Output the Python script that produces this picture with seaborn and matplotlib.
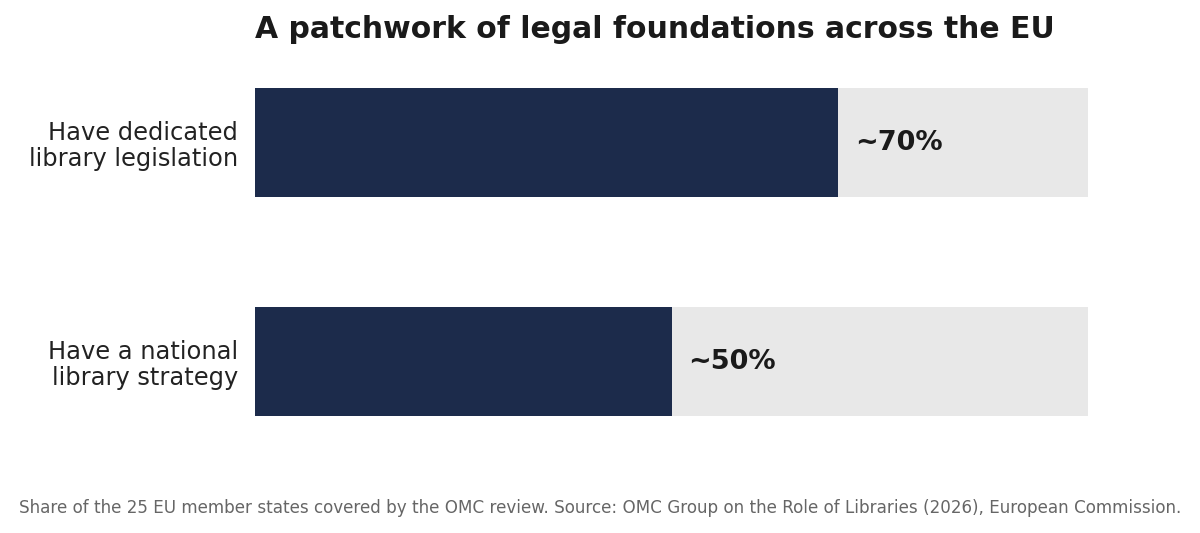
import matplotlib
matplotlib.use('Agg')
import matplotlib.pyplot as plt
import seaborn as sns
import pandas as pd

# Data
categories = ['Have dedicated\nlibrary legislation', 'Have a national\nlibrary strategy']
shares = [70, 50]
value_labels = ['~70%', '~50%']
full_scale = [100, 100]

TITLE = 'A patchwork of legal foundations across the EU'
FOOTER = ('Share of the 25 EU member states covered by the OMC review. '
          'Source: OMC Group on the Role of Libraries (2026), European Commission.')

NAVY = '#1c2b4b'
TRACK = '#e8e8e8'
TEXT = '#1a1a1a'

sns.set_theme(style='white')
plt.rcParams['font.family'] = ['DejaVu Sans']

df = pd.DataFrame({'category': categories, 'share': shares, 'full': full_scale})

fig = plt.figure(figsize=(12, 5.33), dpi=100)
ax = fig.add_axes([0.2125, 0.1163, 0.6942, 0.8218])

# grey track first, then the actual share on top
sns.barplot(data=df, x='full', y='category', color=TRACK, width=0.5,
            saturation=1, linewidth=0, ax=ax)
sns.barplot(data=df, x='share', y='category', color=NAVY, width=0.5,
            saturation=1, linewidth=0, ax=ax)

for i, (v, lab) in enumerate(zip(shares, value_labels)):
    ax.text(v + 2, i + 0.004, lab, va='center', ha='left', fontsize=19.5,
            fontweight='bold', color=TEXT)

ax.set_xlim(0, 100)
ax.set_ylim(1.5, -0.5)
ax.set_xlabel('')
ax.set_ylabel('')
ax.set_xticks([])
ax.tick_params(axis='y', length=0, pad=12, labelsize=17.4, labelcolor='#222222')
for lbl in ax.get_yticklabels():
    lbl.set_horizontalalignment('right')
    lbl.set_linespacing(1.12)
sns.despine(ax=ax, left=True, bottom=True)

fig.text(0.2125, 0.944, TITLE, ha='left', va='center', fontsize=21.5,
         fontweight='bold', color=TEXT)
fig.text(0.5, 0.047, FOOTER, ha='center', va='center', fontsize=12.1,
         color='#666666')

fig.savefig('out.png', dpi=100)
plt.close(fig)
